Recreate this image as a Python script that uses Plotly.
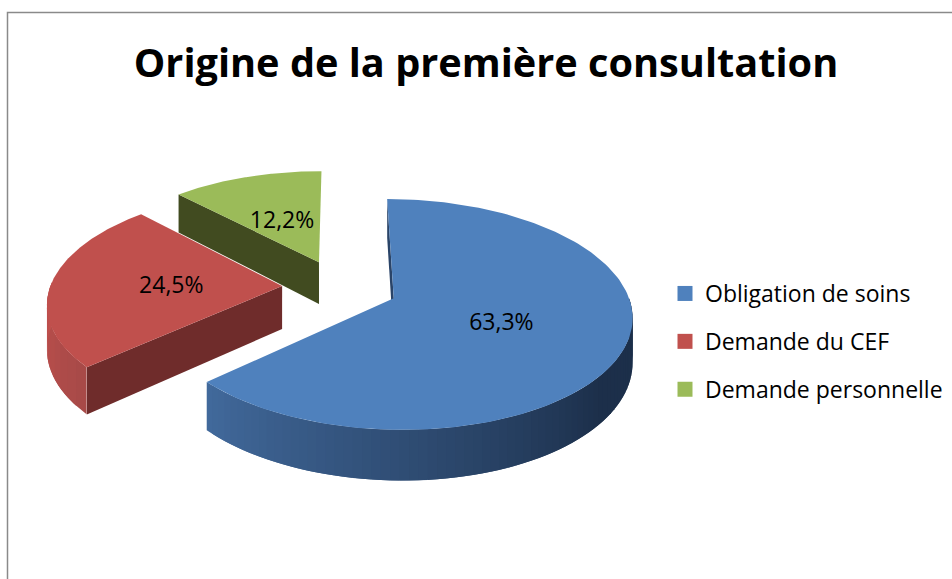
import numpy as np
import plotly.graph_objects as go

CATEGORIES = ["Obligation de soins", "Demande du CEF", "Demande personnelle"]
VALUES = [63.3, 24.5, 12.2]
TOP_COLORS = ["#4F81BD", "#C0504D", "#9BBB59"]
RADIAL_COLORS = ["#2a4468", "#6F2C2B", "#414B20"]
TITLE = "Origine de la première consultation"

CX, CY = 340.0, 287.0
RX, RY = 232.0, 110.0
PERSP = 0.138
EXPLODE = 0.25
DEPTH = 43.0
LABEL_R = 0.48
LABEL_DROP = 3.5


def project(u, v, z=0.0):
    s = 1.0 / (1.0 + PERSP * v)
    return CX + RX * u * s, CY - RY * v * s + z * s


def lerp_color(a, b, t):
    ca = [int(a[i:i + 2], 16) for i in (1, 3, 5)]
    cb = [int(b[i:i + 2], 16) for i in (1, 3, 5)]
    c = [round(x + (y - x) * t) for x, y in zip(ca, cb)]
    return f"rgb({c[0]},{c[1]},{c[2]})"


fracs = np.array(VALUES) / sum(VALUES) * 360.0
ends = np.cumsum(fracs)
starts = ends - fracs

fig = go.Figure()


def poly(xs, ys, color):
    fig.add_trace(go.Scatter(x=list(xs), y=list(ys), mode="lines", fill="toself",
                             fillcolor=color, line=dict(color=color, width=0),
                             showlegend=False, hoverinfo="skip"))


def slice_geom(i):
    bis = np.radians((starts[i] + ends[i]) / 2)
    return EXPLODE * np.sin(bis), EXPLODE * np.cos(bis)


def point(i, deg, r=1.0, z=0.0):
    ou, ov = slice_geom(i)
    a = np.radians(deg)
    return project(ou + r * np.sin(a), ov + r * np.cos(a), z)


def arc_wall(i, a0, a1, c0, c1, n, ramp=1.0):
    edges = np.linspace(a0, a1, n + 1)
    step = edges[1] - edges[0]
    for k in range(n):
        # each strip runs on under the next one so that no seam shows
        stop = edges[k + 1] + (step if k < n - 1 else 0)
        e = np.linspace(edges[k], stop, 4)
        top = [point(i, d) for d in e]
        bot = [point(i, d, z=DEPTH) for d in e[::-1]]
        pts = top + bot
        poly([p[0] for p in pts], [p[1] for p in pts],
             lerp_color(c0, c1, min(1.0, k / (ramp * max(n - 1, 1)))))


def radial_wall(i, deg, color):
    pts = [point(i, deg), point(i, deg, r=0), point(i, deg, r=0, z=DEPTH), point(i, deg, z=DEPTH)]
    poly([p[0] for p in pts], [p[1] for p in pts], color)


def top_face(i):
    d = np.linspace(starts[i], ends[i], 160)
    pts = [point(i, a) for a in d] + [point(i, 0, r=0)]
    poly([p[0] for p in pts], [p[1] for p in pts], TOP_COLORS[i])


# green (back), then red, then blue (front)
radial_wall(2, starts[2], RADIAL_COLORS[2])
top_face(2)
radial_wall(1, starts[1], RADIAL_COLORS[1])
arc_wall(1, 228.0, 272.0, "#a84a48", "#c0504d", 10)
top_face(1)
radial_wall(0, starts[0], RADIAL_COLORS[0])
arc_wall(0, ends[0], 90.0, "#41699b", "#1c2f4a", 70, ramp=0.72)
top_face(0)

# data labels
lx, ly, lt = [], [], []
for i, v in enumerate(VALUES):
    x, y = point(i, (starts[i] + ends[i]) / 2, r=LABEL_R, z=LABEL_DROP)
    lx.append(x)
    ly.append(y)
    lt.append(f"{v:.1f}".replace(".", ",") + "%")
fig.add_trace(go.Scatter(x=lx, y=ly, text=lt, mode="text", showlegend=False, hoverinfo="skip",
                         textposition="middle center",
                         textfont=dict(family="Open Sans", size=23, color="#000000")))

# legend
for name, color in zip(CATEGORIES, TOP_COLORS):
    fig.add_trace(go.Scatter(x=[None], y=[None], mode="markers", name=name, legendgroup=name,
                             marker=dict(symbol="square", size=15, color=color)))

fig.update_layout(
    width=952, height=579, margin=dict(l=0, r=0, t=0, b=0),
    paper_bgcolor="white", plot_bgcolor="white",
    xaxis=dict(range=[0, 952], visible=False, domain=[0, 1], fixedrange=True),
    yaxis=dict(range=[579, 0], visible=False, domain=[0, 1], fixedrange=True),
    title=dict(text=f"<b>{TITLE}</b>", x=486 / 952, xanchor="center", y=1 - 63 / 579, yanchor="middle",
               font=dict(family="Open Sans", size=39.7, color="#000000")),
    legend=dict(x=665 / 952, y=1 - 272 / 579, xanchor="left", yanchor="top", tracegroupgap=15,
                font=dict(family="Open Sans", size=23, color="#000000"),
                bgcolor="rgba(0,0,0,0)", itemwidth=30),
    shapes=[dict(type="rect", xref="paper", yref="paper", x0=7.5 / 952, x1=1.01, y0=-0.01, y1=1 - 12.5 / 579,
                 line=dict(color="#8a8a8a", width=1.5), layer="below")],
)
fig.write_html("out.html", config={"displayModeBar": False},
               post_script="document.body.style.margin='0';")
